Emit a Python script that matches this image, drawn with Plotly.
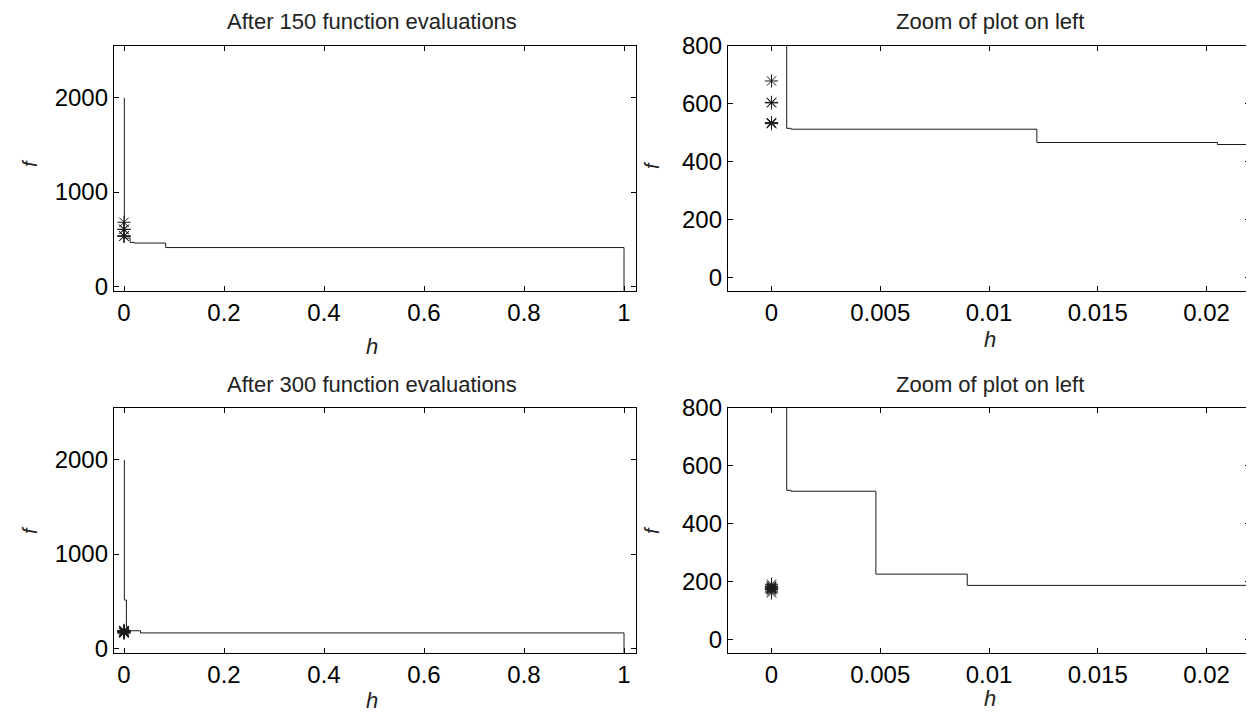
import plotly.graph_objects as go

# ---- data ----
# staircase (best f found for each h), after 150 evaluations
h150 = [0.0007, 0.0009, 0.0122, 0.0205, 0.0834, 1.0, 1.0]
f150 = [2000, 515, 512, 466, 459, 411, -50]
# points at h = 0 (asterisks), after 150 evaluations
hp150 = [0, 0, 0, 0, 0, 0]
fp150 = [679, 605, 603, 533, 531, 535]

# after 300 evaluations
h300 = [0.0007, 0.0009, 0.0048, 0.0090, 0.0330, 1.0, 1.0]
f300 = [2000, 515, 512, 225, 186, 163, -50]
hp300 = [0, 0, 0, 0, 0, 0, 0, 0]
fp300 = [190, 184, 178, 172, 166, 160, 175, 182]

titles = ["After 150 function evaluations", "Zoom of plot on left",
          "After 300 function evaluations", "Zoom of plot on left"]
left_xticks = [0, 0.2, 0.4, 0.6, 0.8, 1]
left_xlabels = ["0", "0.2", "0.4", "0.6", "0.8", "1"]
right_xticks = [0, 0.005, 0.01, 0.015, 0.02]
right_xlabels = ["0", "0.005", "0.01", "0.015", "0.02"]
left_yticks = [0, 1000, 2000]
right_yticks = [0, 200, 400, 600, 800]

FONT = "Liberation Sans, Arial, Helvetica, sans-serif"
LINE_C = "#1a1a1a"

fig = go.Figure()

panels = [
    ("x", "y", h150, f150, hp150, fp150),
    ("x2", "y2", h150, f150, hp150, fp150),
    ("x3", "y3", h300, f300, hp300, fp300),
    ("x4", "y4", h300, f300, hp300, fp300),
]
for xa, ya, hh, ff, hp, fp in panels:
    fig.add_trace(go.Scatter(x=hh, y=ff, mode="lines", line=dict(color=LINE_C, width=1, shape="vh"),
                             xaxis=xa, yaxis=ya, showlegend=False, hoverinfo="skip"))
    fig.add_trace(go.Scatter(x=hp, y=fp, mode="markers",
                             marker=dict(symbol="asterisk-open", size=11, color=LINE_C,
                                         line=dict(color=LINE_C, width=1)),
                             xaxis=xa, yaxis=ya, showlegend=False, hoverinfo="skip", cliponaxis=False))

# page body has an 8px margin: figure is drawn 8px in from the window corner
OFF = 8
W, H = 1254 - OFF, 713 - OFF
ML, MR, MT, MB = 114 - OFF, 4, 46 - OFF, 60
PW, PH = W - ML - MR, H - MT - MB

def px(x):
    return (x - OFF - ML) / PW

def py(y):
    return (H - MB - (y - OFF)) / PH

dom_left = [px(114), px(636)]
dom_right = [px(728), px(1250)]
dom_top = [py(291), py(46)]
dom_bot = [py(653), py(408)]

axcommon = dict(showline=True, linecolor="black", linewidth=1.3, mirror="ticks",
                ticks="inside", ticklen=5, tickwidth=1, tickcolor="black",
                showgrid=False, zeroline=False,
                tickfont=dict(family=FONT, size=24, color="black"))

fig.update_layout(
    width=W, height=H,
    margin=dict(l=ML, r=MR, t=MT, b=MB),
    paper_bgcolor="white", plot_bgcolor="white",
    xaxis=dict(domain=dom_left, anchor="y", range=[-0.02, 1.024],
               tickvals=left_xticks, ticktext=left_xlabels, **axcommon),
    yaxis=dict(domain=dom_top, anchor="x", range=[-50, 2550], tickvals=left_yticks, **axcommon),
    xaxis2=dict(domain=dom_right, anchor="y2", range=[-0.002, 0.022],
                tickvals=right_xticks, ticktext=right_xlabels, **axcommon),
    yaxis2=dict(domain=dom_top, anchor="x2", range=[-48, 800], tickvals=right_yticks, **axcommon),
    xaxis3=dict(domain=dom_left, anchor="y3", range=[-0.02, 1.024],
                tickvals=left_xticks, ticktext=left_xlabels, **axcommon),
    yaxis3=dict(domain=dom_bot, anchor="x3", range=[-50, 2550], tickvals=left_yticks, **axcommon),
    xaxis4=dict(domain=dom_right, anchor="y4", range=[-0.002, 0.022],
                tickvals=right_xticks, ticktext=right_xlabels, **axcommon),
    yaxis4=dict(domain=dom_bot, anchor="x4", range=[-48, 800], tickvals=right_yticks, **axcommon),
)

ann = []
title_pos = [(372, 21), (990, 21), (372, 384), (990, 384)]
for t, (x, y) in zip(titles, title_pos):
    ann.append(dict(text=t, x=px(x), y=py(y), xref="paper", yref="paper", showarrow=False,
                    xanchor="center", yanchor="middle",
                    font=dict(family=FONT, size=22, color="#222")))
h_pos = [(372, 346), (990, 339), (372, 700), (990, 698)]
for x, y in h_pos:
    ann.append(dict(text="<i>h</i>", x=px(x), y=py(y), xref="paper", yref="paper", showarrow=False,
                    xanchor="center", yanchor="middle",
                    font=dict(family=FONT, size=22, color="#222")))
f_pos = [(30, 163), (652, 165), (30, 530), (652, 530)]
for x, y in f_pos:
    ann.append(dict(text="<i>f</i>", x=px(x), y=py(y), xref="paper", yref="paper", showarrow=False,
                    xanchor="center", yanchor="middle", textangle=-90,
                    font=dict(family=FONT, size=20, color="#222")))
fig.update_layout(annotations=ann)

fig.write_html("out.html")
